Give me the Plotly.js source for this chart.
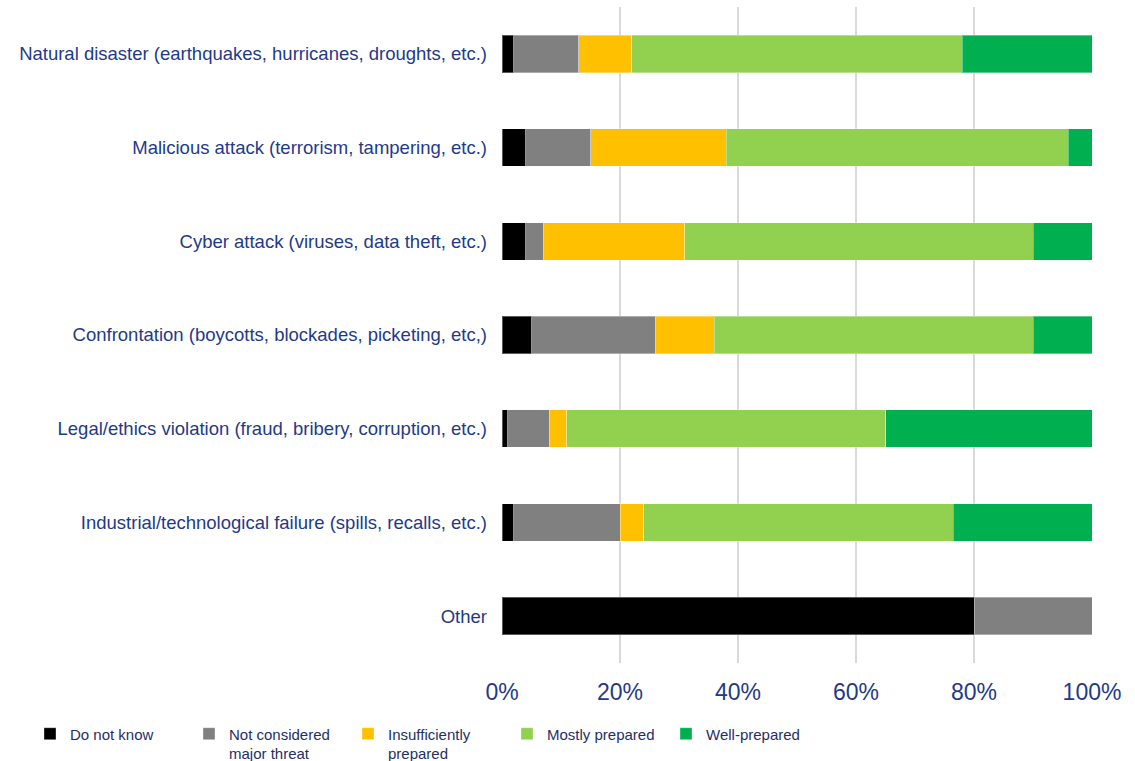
<!DOCTYPE html>
<html>
<head>
<meta charset="utf-8">
<script src="https://cdn.plot.ly/plotly-3.0.1.min.js"></script>
<style>html,body{margin:0;padding:0;background:#fff;}#chart{width:1135px;height:761px;}</style>
</head>
<body>
<div id="chart"></div>
<script>
const categories = [
  "Natural disaster (earthquakes, hurricanes, droughts, etc.)",
  "Malicious attack (terrorism, tampering, etc.)",
  "Cyber attack (viruses, data theft, etc.)",
  "Confrontation (boycotts, blockades, picketing, etc,)",
  "Legal/ethics violation (fraud, bribery, corruption, etc.)",
  "Industrial/technological failure (spills, recalls, etc.)",
  "Other"
];
const doNotKnow      = [2, 4, 4, 5, 1, 2, 80];
const notConsidered  = [11, 11, 3, 21, 7, 18, 20];
const insufficiently = [9, 23, 24, 10, 3, 4, 0];
const mostlyPrepared = [56, 58, 59, 54, 54, 52.5, 0];
const wellPrepared   = [22, 4, 10, 10, 35, 23.5, 0];
const seriesNames = ["Do not know", "Not considered<br>major threat", "Insufficiently<br>prepared", "Mostly prepared", "Well-prepared"];
const xTickVals = [0, 20, 40, 60, 80, 100];
const xTickText = ["0%", "20%", "40%", "60%", "80%", "100%"];

const colors = ["#000000", "#808080", "#FFC000", "#92D050", "#00B050"];
const series = [doNotKnow, notConsidered, insufficiently, mostlyPrepared, wellPrepared];

const traces = series.map((vals, i) => ({
  type: "bar",
  orientation: "h",
  y: categories,
  x: vals,
  name: seriesNames[i],
  marker: {color: colors[i], line: {color: "rgba(255,255,255,0.35)", width: 1}},
  hoverinfo: "skip"
}));

const layout = {
  width: 1135, height: 761,
  margin: {l: 502, r: 43, t: 7, b: 98, autoexpand: false},
  barmode: "stack",
  bargap: 0.6,
  paper_bgcolor: "#fff", plot_bgcolor: "#fff",
  font: {family: "Liberation Sans, Arial, sans-serif", color: "#1F3A8A"},
  showlegend: true,
  hovermode: false,
  xaxis: {
    range: [0, 100],
    tickvals: xTickVals, ticktext: xTickText,
    showgrid: true, gridcolor: "#D9D9D9", gridwidth: 2,
    zeroline: false, showline: false,
    tickfont: {size: 23, color: "#1F3A8A"},
    ticklabelstandoff: 13,
    automargin: false,
    fixedrange: true
  },
  yaxis: {
    type: "category",
    autorange: "reversed",
    showgrid: false, zeroline: false, showline: false,
    tickfont: {size: 18.5, color: "#1F3A8A"},
    ticklabelstandoff: 14,
    automargin: false,
    fixedrange: true
  },
  legend: {
    orientation: "h",
    x: -0.80, xanchor: "left",
    y: -0.083, yanchor: "top",
    valign: "top",
    traceorder: "normal",
    font: {size: 15, color: "#1F2F66"},
    entrywidth: 114, entrywidthmode: "pixels",
    itemwidth: 30,
    tracegroupgap: 0
  }
};

Plotly.newPlot("chart", traces, layout, {displayModeBar: false, staticPlot: true});
</script>
</body>
</html>
